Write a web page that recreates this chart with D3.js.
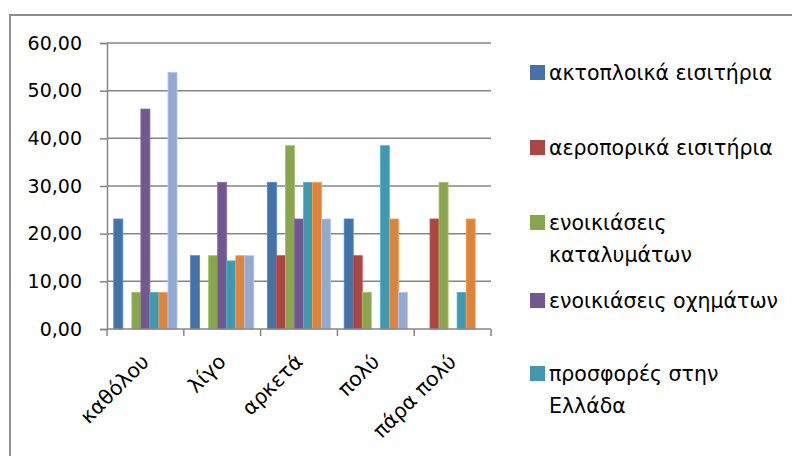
<!DOCTYPE html>
<html>
<head>
<meta charset="utf-8">
<script src="https://cdn.jsdelivr.net/npm/d3@7"></script>
<style>
  html, body { margin: 0; padding: 0; background: #fff; }
  svg { display: block; font-family: "DejaVu Sans", Verdana, sans-serif; }
</style>
</head>
<body>
<svg id="chart" width="792" height="456"></svg>
<script>
// Categories (answer scale) and series
const categories = ["καθόλου", "λίγο", "αρκετά", "πολύ", "πάρα πολύ"];
const seriesNames = [
  "ακτοπλοικά εισιτήρια",
  "αεροπορικά εισιτήρια",
  "ενοικιάσεις καταλυμάτων",
  "ενοικιάσεις οχημάτων",
  "προσφορές στην Ελλάδα",
  "σειρά 6",
  "σειρά 7"
];
// Percentages per series, in category order
const ferryTickets   = [23.08, 15.38, 30.77, 23.08, 0];
const flightTickets  = [0, 0, 15.38, 15.38, 23.08];
const lodgingRentals = [7.69, 15.38, 38.46, 7.69, 30.77];
const carRentals     = [46.15, 30.77, 23.08, 0, 0];
const greeceOffers   = [7.69, 14.29, 30.77, 38.46, 7.69];
const series6        = [7.69, 15.38, 30.77, 23.08, 23.08];
const series7        = [53.85, 15.38, 23.08, 7.69, 0];
const seriesValues = [ferryTickets, flightTickets, lodgingRentals, carRentals, greeceOffers, series6, series7];
const yTicks = [0, 10, 20, 30, 40, 50, 60];
// Legend shows the entries that fit in the frame
const legendLabels = [
  ["ακτοπλοικά εισιτήρια"],
  ["αεροπορικά εισιτήρια"],
  ["ενοικιάσεις", "καταλυμάτων"],
  ["ενοικιάσεις οχημάτων"],
  ["προσφορές στην", "Ελλάδα"]
];

const colors = ["#4572A7", "#AA4643", "#89A54E", "#71588F", "#4198AF", "#DB843D", "#93A9CF"];
const axisGray = "#868686";
const textSize = 20.5;
const numberSize = 19;

const svg = d3.select("#chart");

// Outer chart frame
svg.append("rect")
  .attr("x", 10).attr("y", 15)
  .attr("width", 800).attr("height", 460)
  .attr("fill", "#fff")
  .attr("stroke", "#8e8e8e")
  .attr("stroke-width", 2);

const plot = { left: 107, right: 491, top: 43, bottom: 329 };

const x0 = d3.scaleBand()
  .domain(categories)
  .range([plot.left, plot.right])
  .paddingInner(0)
  .paddingOuter(0);

// Excel-style 150% gap: the cluster occupies 7/8.5 of each category
const gapRatio = 1.5;
const n = seriesNames.length;
const barW = x0.bandwidth() / (n + gapRatio);
const x1 = d3.scaleBand()
  .domain(d3.range(n))
  .range([barW * gapRatio / 2, barW * gapRatio / 2 + barW * n])
  .padding(0);

const y = d3.scaleLinear().domain([0, 60]).range([plot.bottom, plot.top]);

// Gridlines
svg.append("g")
  .selectAll("line")
  .data(yTicks.filter(t => t > 0))
  .join("line")
  .attr("x1", plot.left).attr("x2", plot.right)
  .attr("y1", d => y(d)).attr("y2", d => y(d))
  .attr("stroke", axisGray).attr("stroke-width", 1.5);

// Bars
const groups = svg.append("g")
  .selectAll("g")
  .data(categories)
  .join("g")
  .attr("transform", d => `translate(${x0(d)},0)`);

groups.selectAll("rect")
  .data((c, ci) => seriesValues.map((vals, si) => ({ si, v: vals[ci] })))
  .join("rect")
  .filter(d => d.v > 0)
  .attr("x", d => x1(d.si))
  .attr("width", x1.bandwidth())
  .attr("y", d => y(d.v))
  .attr("height", d => y(0) - y(d.v))
  .attr("fill", d => colors[d.si])
  .attr("stroke", d => d3.color(colors[d.si]).brighter(0.5))
  .attr("stroke-width", 0.8);

// Y axis
const yAxis = d3.axisLeft(y)
  .tickValues(yTicks)
  .tickSize(7)
  .tickPadding(18)
  .tickFormat(d => d3.format(".2f")(d).replace(".", ","));
const yg = svg.append("g")
  .attr("transform", `translate(${plot.left},0)`)
  .call(yAxis);
yg.select(".domain").attr("stroke", axisGray).attr("stroke-width", 1.5);
yg.selectAll(".tick line").attr("stroke", axisGray).attr("stroke-width", 1.5);
yg.selectAll(".tick text")
  .attr("font-size", numberSize)
  .attr("fill", "#000")
  .attr("font-family", "'DejaVu Sans', Verdana, sans-serif");

// X axis with ticks at category boundaries
const xg = svg.append("g").attr("transform", `translate(0,${plot.bottom})`);
xg.append("line")
  .attr("x1", plot.left).attr("x2", plot.right)
  .attr("stroke", axisGray).attr("stroke-width", 1.5);
const boundaries = categories.map(c => x0(c)).concat([plot.right]);
xg.selectAll("line.tk")
  .data(boundaries)
  .join("line")
  .attr("class", "tk")
  .attr("x1", d => d).attr("x2", d => d)
  .attr("y1", 0).attr("y2", 7)
  .attr("stroke", axisGray).attr("stroke-width", 1.5);
xg.selectAll("text")
  .data(categories)
  .join("text")
  .attr("text-anchor", "end")
  .attr("font-size", textSize)
  .attr("fill", "#000")
  .attr("transform", d => `translate(${x0(d) + x0.bandwidth() / 2 + 5},${34}) rotate(-45)`)
  .text(d => d);

// Legend
const legend = svg.append("g");
const legendY = [73, 148, 223, 301, 374];
legendLabels.forEach((lines, i) => {
  const g = legend.append("g").attr("transform", `translate(530,${legendY[i]})`);
  g.append("rect")
    .attr("x", 0).attr("y", -8)
    .attr("width", 15).attr("height", 15)
    .attr("fill", colors[i]);
  lines.forEach((t, li) => {
    g.append("text")
      .attr("x", 19)
      .attr("y", li * 32)
      .attr("dy", "0.35em")
      .attr("font-size", textSize)
      .attr("fill", "#000")
      .text(t);
  });
});
</script>
</body>
</html>
